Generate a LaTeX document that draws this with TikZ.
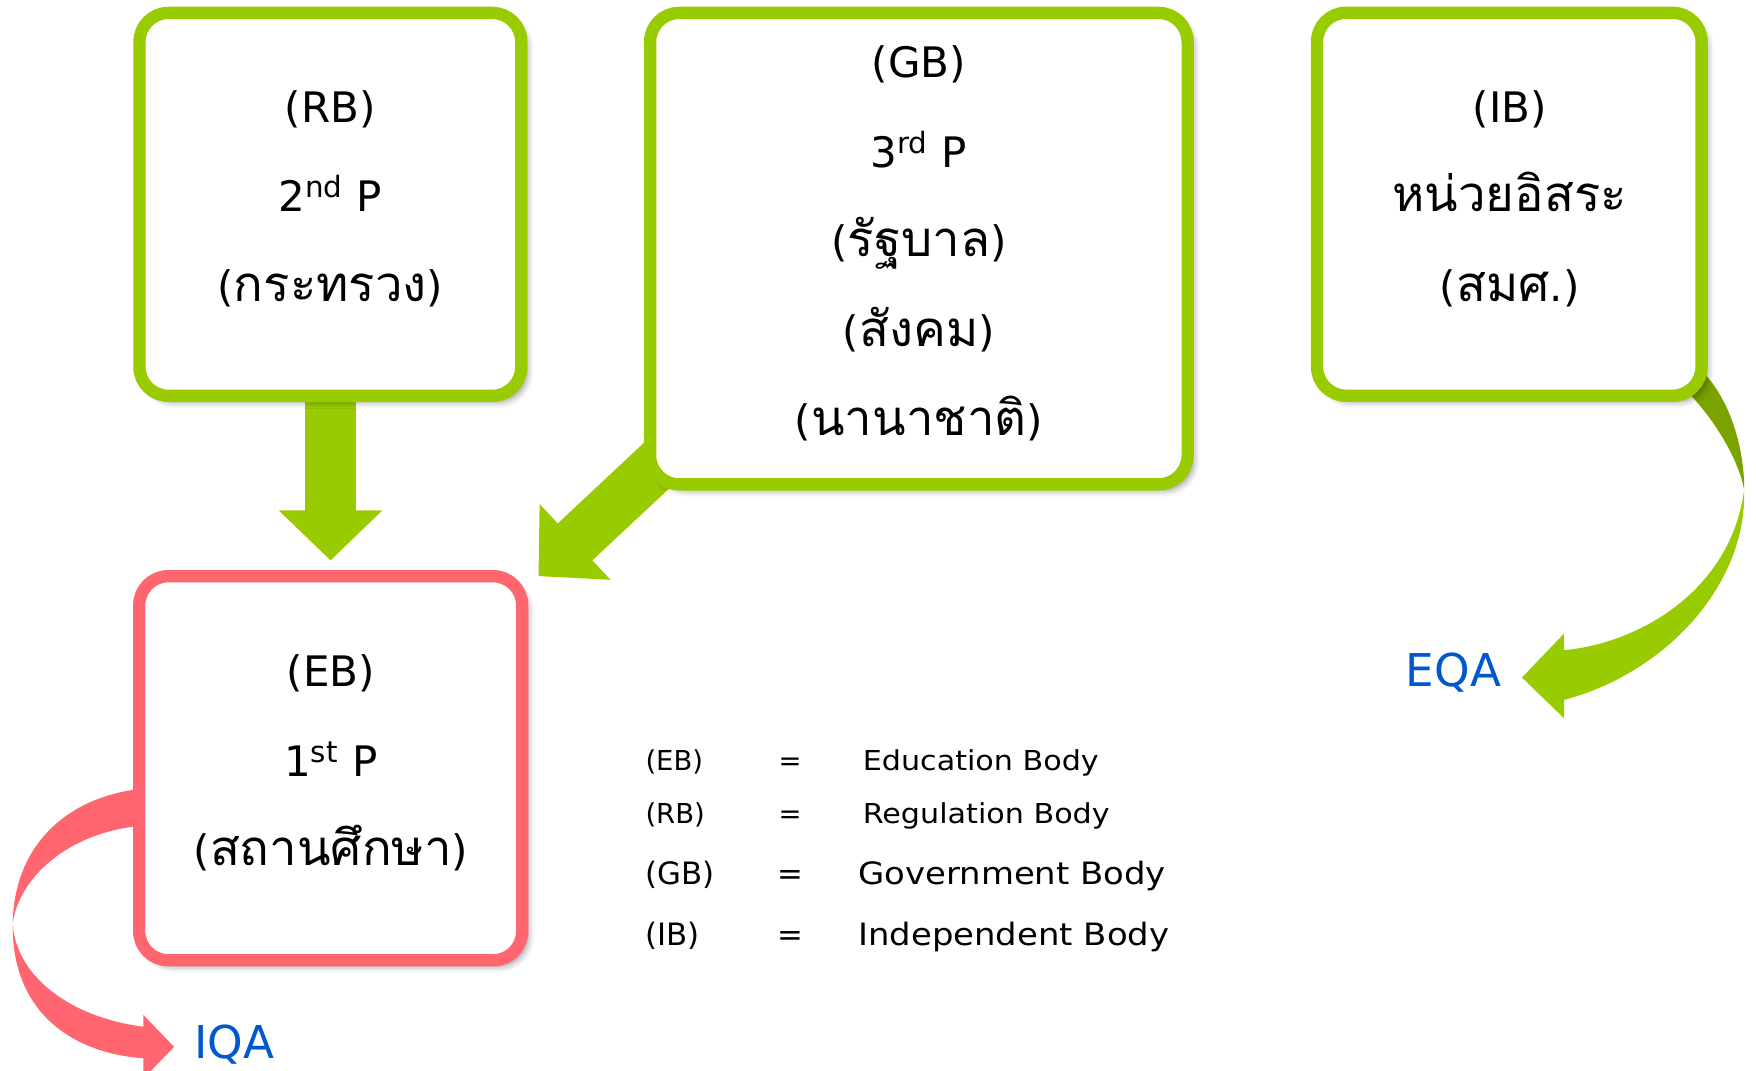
\documentclass[tikz,border=0pt]{standalone}
\usepackage{fontspec}
\setmainfont{DejaVu Sans}
\newfontfamily\thai[Script=Thai,Scale=1.17]{Loma}
\newfontfamily\descfont{DejaVu Sans}[FakeStretch=1.1]
\usetikzlibrary{arrows.meta,shadows.blur,calc}
\definecolor{grn}{HTML}{99CC00}
\definecolor{dgrn}{HTML}{7AA300}
\definecolor{pnk}{HTML}{FF6670}
\definecolor{blu}{HTML}{0058D0}
\pgfdeclarelayer{bg}
\pgfsetlayers{bg,main}
\begin{document}
\begin{tikzpicture}[x=0.5pt,y=-0.5pt,
  boxbase/.style={rectangle, rounded corners=13pt, line width=5.5pt, fill=white,
    inner sep=0pt, outer sep=0pt,
    blur shadow={shadow xshift=2.5pt, shadow yshift=-2.5pt, shadow blur radius=3pt, shadow opacity=45}},
  gbox/.style={boxbase, draw=grn},
  pbox/.style={boxbase, draw=pnk},
  boxtxt/.style={align=center, inner sep=0pt, font=\fontsize{18.75pt}{40pt}\selectfont},
  bigarrow/.style={draw=grn, line width=22.6pt, -{Triangle[length=22.4pt,width=45pt]}},
  lab/.style={text=blu, font=\fontsize{20.2pt}{24pt}\selectfont, inner sep=0pt, anchor=base west},
  legS/.style={inner sep=0pt, anchor=base west, font=\fontsize{12.25pt}{15pt}\selectfont},
  legL/.style={inner sep=0pt, anchor=base west, font=\fontsize{13.75pt}{17pt}\selectfont},
]
\useasboundingbox (0,0) rectangle (1568,956);

% boxes
\node[gbox, minimum width=170.5pt, minimum height=171pt] (rb) at (295,182.5) {};
\node[gbox, minimum width=240pt, minimum height=210.5pt] (gb) at (820.5,222) {};
\node[gbox, minimum width=171.7pt, minimum height=171pt] (ib) at (1347.7,182.4) {};
\node[pbox, minimum width=171pt, minimum height=171.5pt] (eb) at (295.3,686) {};

% box texts
\node[boxtxt] (rbt) at (295,177.5) {(RB)\\2\textsuperscript{nd} P\\({\thai กระทรวง})};
\node[boxtxt] (gbt) at (820.5,217.5) {(GB)\\3\textsuperscript{rd} P\\({\thai รัฐบาล})\\({\thai สังคม})\\({\thai นานาชาติ})};
\node[boxtxt] (ibt) at (1348,177.5) {(IB)\\{\thai หน่วยอิสระ}\\({\thai สมศ}.)};
\node[boxtxt] (ebt) at (295.5,681.5) {(EB)\\1\textsuperscript{st} P\\({\thai สถานศึกษา})};

% labels
\node[lab] (iqa) at (173,944.9) {IQA};
\node[lab] (eqa) at (1255,613) {EQA};

% legend
\node[legS] (l1a) at (576,688.3) {(EB)};
\node[legS, anchor=base] (l1b) at (705.5,688.3) {=};
\node[legS] (l1c) at (770,688.3) {\descfont Education Body};
\node[legS] (l2a) at (576,735) {(RB)};
\node[legS, anchor=base] (l2b) at (705.5,735) {=};
\node[legS] (l2c) at (770,735) {\descfont Regulation Body};
\node[legL] (l3a) at (576,789.7) {(GB)};
\node[legL, anchor=base] (l3b) at (705.5,789.7) {=};
\node[legL] (l3c) at (766,789.7) {\descfont Government Body};
\node[legL] (l4a) at (576,844) {(IB)};
\node[legL, anchor=base] (l4b) at (705.5,844) {=};
\node[legL] (l4c) at (766,844) {\descfont Independent Body};

\coordinate (gbtip) at ([shift={(14.5,0)}]eb.north east);

\begin{pgfonlayer}{bg}
  % straight arrows
  \draw[bigarrow, shorten >=7pt] (rb) -- (eb);
  \draw[bigarrow] ([shift={(-219.5,180)}]gb.center) -- (gbtip);
  % IB -> EQA curved arrow (back part)
  \fill[dgrn] ([shift={(157.3,137.6)}]ib.center) .. controls ([shift={(192.3,157.6)}]ib.center) and ([shift={(210.3,212.6)}]ib.center) .. ([shift={(209.7,255.2)}]ib.center)
     .. controls ([shift={(205.3,229.6)}]ib.center) and ([shift={(184.3,192.6)}]ib.center) .. ([shift={(157.3,165.6)}]ib.center) -- cycle;
  % IB -> EQA curved arrow (front part)
  \fill[grn] ([shift={(209.7,255.2)}]ib.center) .. controls ([shift={(212.3,337.6)}]ib.center) and ([shift={(142.3,417.6)}]ib.center) .. ([shift={(49,442.6)}]ib.center)
     -- ([shift={(49,459.1)}]ib.center) -- ([shift={(11.3,422.6)}]ib.center) -- ([shift={(49,383.2)}]ib.center) -- ([shift={(49,398.1)}]ib.center)
     .. controls ([shift={(112.3,392.6)}]ib.center) and ([shift={(197.3,347.6)}]ib.center) .. ([shift={(209.7,255.2)}]ib.center) -- cycle;
  % EB -> IQA curved arrow (back part)
  \fill[pnk] ([shift={(5.8,18)}]eb.west) .. controls ([shift={(-64.2,24)}]eb.west) and ([shift={(-112.2,69)}]eb.west) .. ([shift={(-112.9,139)}]eb.west)
     .. controls ([shift={(-108.2,99)}]eb.west) and ([shift={(-64.2,56)}]eb.west) .. ([shift={(5.8,51)}]eb.west) -- cycle;
  % EB -> IQA curved arrow (front part)
  \fill[pnk] ([shift={(-112.9,139)}]eb.west) .. controls ([shift={(-110.2,184)}]eb.west) and ([shift={(-64.2,222)}]eb.west) .. ([shift={(3.8,230.8)}]eb.west)
     -- ([shift={(3.8,220.4)}]eb.west) -- ([shift={(31.2,248.7)}]eb.west) -- ([shift={(3.8,277)}]eb.west) -- ([shift={(3.8,259)}]eb.west)
     .. controls ([shift={(-64.2,254)}]eb.west) and ([shift={(-114.2,214)}]eb.west) .. ([shift={(-112.9,139)}]eb.west) -- cycle;
\end{pgfonlayer}
\end{tikzpicture}
\end{document}
